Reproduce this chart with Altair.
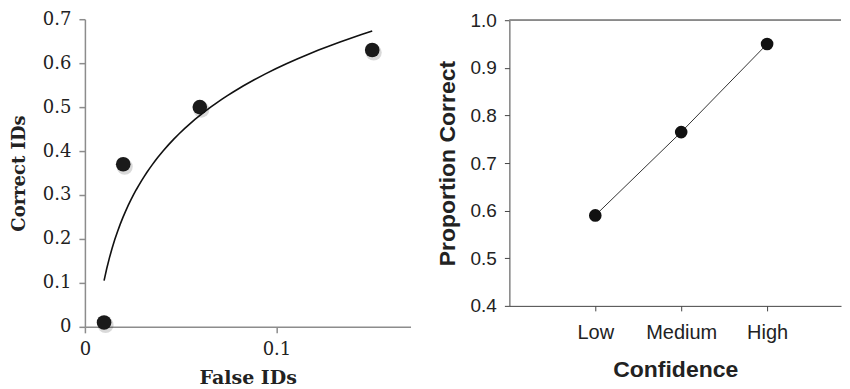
import altair as alt
import pandas as pd

# Left panel: ROC-like points
false_ids = [0.01, 0.02, 0.06, 0.15]
correct_ids = [0.01, 0.37, 0.50, 0.63]

# Right panel: confidence-accuracy
confidence = ["Low", "Medium", "High"]
prop_correct = [0.59, 0.765, 0.95]

left_df = pd.DataFrame({"fa": false_ids, "hit": correct_ids})
right_df = pd.DataFrame({"conf": confidence, "pc": prop_correct})

SERIF = "DejaVu Serif"
SANS = "Liberation Sans"
GRAY = "#8c8c8c"

xl = alt.X("fa:Q", title="False IDs",
           scale=alt.Scale(domain=[0, 0.17], nice=False, zero=True),
           axis=alt.Axis(values=[0, 0.1], format="~g", grid=False,
                         domainColor=GRAY, tickColor=GRAY, domainWidth=1.5, tickWidth=1.5,
                         tickSize=6, labelPadding=8, labelFont=SERIF, labelFontSize=18,
                         labelColor="#222", titleFont=SERIF, titleFontSize=19,
                         titleFontWeight="bold", titleColor="#222", titlePadding=10,
                         labelFlush=False))
yl = alt.Y("hit:Q", title="Correct IDs",
           scale=alt.Scale(domain=[0, 0.7], nice=False),
           axis=alt.Axis(values=[0, 0.1, 0.2, 0.3, 0.4, 0.5, 0.6, 0.7], format="~g",
                         grid=False, domainColor=GRAY, tickColor=GRAY, domainWidth=1.5,
                         tickWidth=1.5, tickSize=6, labelPadding=8, labelFont=SERIF,
                         labelFontSize=18, labelColor="#222", titleFont=SERIF,
                         titleFontSize=18, titleFontWeight="bold", titleColor="#222",
                         titlePadding=14))

left_base = alt.Chart(left_df)
shadow = left_base.mark_circle(color="#000", opacity=0.15, size=260, xOffset=1.5, yOffset=2.5).encode(x=xl, y=yl)
dots = left_base.mark_circle(color="#1a1a1a", opacity=1, size=215).encode(x=xl, y=yl)
curve = left_base.transform_regression(
    "fa", "hit", method="log", extent=[0.01, 0.15]
).mark_line(color="#111", strokeWidth=1.6).encode(x=xl, y=yl)

left = alt.layer(shadow, dots, curve).properties(width=326, height=308)

DARK = "#444"
xr = alt.X("conf:N", sort=confidence, title="Confidence",
           scale=alt.Scale(type="point", padding=0.93, align=0.5375),
           axis=alt.Axis(labelAngle=0, domainColor=DARK, tickColor=DARK, tickSize=5,
                         labelPadding=12, labelFont=SANS, labelFontSize=20,
                         labelColor="#222", titleFont=SANS, titleFontSize=23,
                         titleFontWeight="bold", titleColor="#222", titlePadding=16))
yr = alt.Y("pc:Q", title="Proportion Correct",
           scale=alt.Scale(domain=[0.4, 1.0], nice=False, zero=False, range=[287, 1]),
           axis=alt.Axis(values=[0.4, 0.5, 0.6, 0.7, 0.8, 0.9, 1.0], format=".1f",
                         grid=False, domainColor=DARK, tickColor=DARK, tickSize=5,
                         labelPadding=8, labelFont=SANS, labelFontSize=19,
                         labelColor="#222", titleFont=SANS, titleFontSize=23,
                         titleFontWeight="bold", titleColor="#222", titlePadding=11))

right_base = alt.Chart(right_df)
top_rule = right_base.mark_rule(color="#888", strokeWidth=1.2).encode(y=alt.datum(1.0))
rline = right_base.mark_line(color="#333", strokeWidth=1).encode(x=xr, y=yr)
rdots = right_base.mark_circle(color="#111", opacity=1, size=160).encode(x=xr, y=yr)
right = alt.layer(top_rule, rline, rdots).properties(width=332, height=287)

chart = alt.hconcat(left, right, spacing=25).properties(
    padding={"left": 2, "top": 2, "right": 0, "bottom": 0}
).configure_view(stroke=None)

chart.save("out.html", embed_options={"renderer": "svg", "actions": False})
